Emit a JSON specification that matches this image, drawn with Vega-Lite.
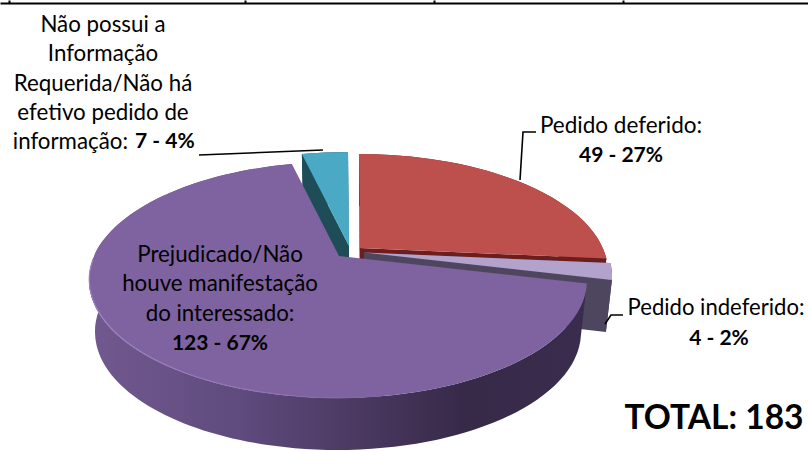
{
"$schema":"https://vega.github.io/schema/vega-lite/v6.json",
"width":808,"height":451,"autosize":"none","padding":0,"background":"white",
"config":{"view":{"stroke":null}},
"data":{"values":[
{"categoria":"Pedido deferido","valor":49,"rotulo":"Pedido deferido:"},
{"categoria":"Pedido indeferido","valor":4,"rotulo":"Pedido indeferido:"},
{"categoria":"Prejudicado","valor":123,"rotulo":"Prejudicado/Não\nhouve manifestação\ndo interessado:"},
{"categoria":"Não possui","valor":7,"rotulo":"Não possui a\nInformação\nRequerida/Não há\nefetivo pedido de","complemento":"informação:"}
]},
"transform":[
{"joinaggregate":[{"op":"sum","field":"valor","as":"total"}]},
{"stack":"valor","groupby":[],"as":["v0","v1"]},
{"calculate":"datum.valor+' - '+round(100*datum.valor/datum.total)+'%'","as":"numeros"},
{"calculate":"2*PI*datum.v0/datum.total","as":"a0"},
{"calculate":"2*PI*datum.v1/datum.total","as":"a1"},
{"calculate":"datum.a0-0.227*sin(datum.a0)","as":"t0"},
{"calculate":"datum.a1-0.227*sin(datum.a1)","as":"t1"},
{"calculate":"datum.t1-datum.t0>PI?1:0","as":"lg"},
{"calculate":"datum.categoria=='Pedido deferido'?21:datum.categoria=='Pedido indeferido'?25:datum.categoria=='Não possui'?10:0","as":"ox"},
{"calculate":"datum.categoria=='Pedido deferido'?-8:datum.categoria=='Pedido indeferido'?-3.5:datum.categoria=='Não possui'?-10:0","as":"oy"},
{"calculate":"datum.ox-65","as":"ax"},
{"calculate":"datum.oy+30.5","as":"ay"},
{"calculate":"round(100*(datum.ox-66+249*sin(datum.t0)))/100","as":"xa"},
{"calculate":"round(100*(datum.oy+54.5-118*cos(datum.t0)))/100","as":"ya"},
{"calculate":"round(100*(datum.ox-66+249*sin(datum.t1)))/100","as":"xb"},
{"calculate":"round(100*(datum.oy+54.5-118*cos(datum.t1)))/100","as":"yb"},
{"calculate":"round(100*(datum.ox-66+243*sin(datum.t0)))/100","as":"bxa"},
{"calculate":"round(100*(datum.oy+106.5-118*cos(datum.t0)))/100","as":"bya"},
{"calculate":"round(100*(datum.ox-66+243*sin(datum.t1)))/100","as":"bxb"},
{"calculate":"round(100*(datum.oy+106.5-118*cos(datum.t1)))/100","as":"byb"},
{"calculate":"'M'+datum.ax+','+datum.ay+'L'+datum.xa+','+datum.ya+'A249,118 0 '+datum.lg+' 1 '+datum.xb+','+datum.yb+'Z'","as":"topo"},
{"calculate":"'M'+datum.xa+','+datum.ya+'A249,118 0 '+datum.lg+' 1 '+datum.xb+','+datum.yb+'L'+datum.bxb+','+datum.byb+'A243,118 0 '+datum.lg+' 0 '+datum.bxa+','+datum.bya+'Z'","as":"parede"},
{"calculate":"'M'+datum.ax+','+datum.ay+'L'+datum.xa+','+datum.ya+'L'+datum.bxa+','+datum.bya+'L'+datum.ax+','+(datum.ay+52)+'Z'","as":"corte0"},
{"calculate":"'M'+datum.ax+','+datum.ay+'L'+datum.xb+','+datum.yb+'L'+datum.bxb+','+datum.byb+'L'+datum.ax+','+(datum.ay+52)+'Z'","as":"corte1"}
],
"layer":[
{"data":{"values":[{"coluna":9},{"coluna":245},{"coluna":434},{"coluna":623}]},
 "transform":[],
 "mark":{"type":"point","opacity":0,"size":1},
 "encoding":{"x":{"field":"coluna","type":"quantitative","scale":{"domain":[0,808],"nice":false,"zero":false},
  "axis":{"orient":"top","values":[9,245,434,623],"labels":false,"title":null,"grid":false,"offset":-3,"domainColor":"black","domainWidth":2,"tickColor":"black","tickWidth":2,"tickSize":3}}}},
{"transform":[
 {"filter":"datum.categoria!='Prejudicado'"},
 {"fold":["corte0","corte1","parede","topo"],"as":["parte","caminho"]},
 {"calculate":"(datum.categoria=='Não possui'?0:datum.categoria=='Pedido deferido'?10:20)+(datum.parte=='topo'?3:datum.parte=='parede'?2:datum.parte=='corte1'?1:0)","as":"ordem"},
 {"calculate":"datum.parte=='topo'?(datum.categoria=='Não possui'?'#4AA9C5':datum.categoria=='Pedido deferido'?'#BD504C':'#B3A2CC'):(datum.categoria=='Não possui'?'#1E4D58':datum.categoria=='Pedido deferido'?'#6B1E1D':'#4E465F')","as":"cor"}
 ],
 "mark":{"type":"point","filled":true,"opacity":1,"size":4,"strokeWidth":0},
 "encoding":{"shape":{"field":"caminho","type":"nominal","scale":null,"legend":null},
  "color":{"field":"cor","type":"nominal","scale":null,"legend":null},
  "order":{"field":"ordem","type":"quantitative"}}},
{"transform":[{"filter":"datum.categoria=='Prejudicado'"}],
 "mark":{"type":"point","filled":true,"opacity":1,"size":4,"strokeWidth":0,
  "fill":{"gradient":"linear","x1":0,"y1":0,"x2":1,"y2":0,"stops":[{"offset":0,"color":"#72598F"},{"offset":0.3,"color":"#5F4B7E"},{"offset":0.55,"color":"#4A3860"},{"offset":0.75,"color":"#372A49"},{"offset":1,"color":"#3A2C4C"}]}},
 "encoding":{"shape":{"field":"parede","type":"nominal","scale":null,"legend":null}}},
{"transform":[{"filter":"datum.categoria=='Prejudicado'"}],
 "mark":{"type":"point","filled":true,"opacity":1,"size":4,"strokeWidth":0,"fill":"#7F62A0"},
 "encoding":{"shape":{"field":"topo","type":"nominal","scale":null,"legend":null}}},
{"transform":[{"filter":"datum.categoria=='Prejudicado'"}],
 "mark":{"type":"point","filled":false,"opacity":1,"size":4,"strokeWidth":1.2,"shape":"M-23,170.5A249,118 0 0 1 -311,34",
  "stroke":{"gradient":"linear","x1":0,"y1":0,"x2":1,"y2":0,"stops":[{"offset":0,"color":"#9A82BE"},{"offset":0.6,"color":"#8E74B2"},{"offset":1,"color":"#7F62A0"}]}}},
{"transform":[{"filter":"datum.categoria=='Não possui'"}],
 "mark":{"type":"point","filled":false,"opacity":1,"size":4,"strokeWidth":1.6,"stroke":"black","shape":"M-205,-70.5L-81,-75.5"}},
{"transform":[{"filter":"datum.categoria=='Pedido deferido'"}],
 "mark":{"type":"point","filled":false,"opacity":1,"size":4,"strokeWidth":1.6,"stroke":"black","shape":"M116,-45.5L119,-93.5L132,-93.5"}},
{"transform":[{"filter":"datum.categoria=='Pedido indeferido'"}],
 "mark":{"type":"point","filled":false,"opacity":1,"size":4,"strokeWidth":1.6,"stroke":"black","shape":"M201,98.5L207,89.5L219,89.5"}},
{"transform":[{"filter":"datum.categoria=='Não possui'"}],
 "mark":{"type":"text","font":"Lato","fontSize":22.3,"lineHeight":29.5,"lineBreak":"\n","align":"center","baseline":"middle","dx":-301,"dy":-201},
 "encoding":{"text":{"field":"rotulo","type":"nominal"}}},
{"transform":[{"filter":"datum.categoria=='Não possui'"}],
 "mark":{"type":"text","font":"Lato","fontSize":22.3,"align":"right","baseline":"middle","dx":-276,"dy":-84},
 "encoding":{"text":{"field":"complemento","type":"nominal"}}},
{"transform":[{"filter":"datum.categoria=='Não possui'"}],
 "mark":{"type":"text","font":"Lato","fontSize":21,"fontWeight":"bold","align":"left","baseline":"middle","dx":-269,"dy":-84},
 "encoding":{"text":{"field":"numeros","type":"nominal"}}},
{"transform":[{"filter":"datum.categoria=='Prejudicado'"}],
 "mark":{"type":"text","font":"Lato","fontSize":22.3,"lineHeight":29.5,"lineBreak":"\n","align":"center","baseline":"middle","dx":-184,"dy":29},
 "encoding":{"text":{"field":"rotulo","type":"nominal"}}},
{"transform":[{"filter":"datum.categoria=='Prejudicado'"}],
 "mark":{"type":"text","font":"Lato","fontSize":21,"fontWeight":"bold","align":"center","baseline":"middle","dx":-184,"dy":118},
 "encoding":{"text":{"field":"numeros","type":"nominal"}}},
{"transform":[{"filter":"datum.categoria=='Pedido deferido'"}],
 "mark":{"type":"text","font":"Lato","fontSize":22.5,"align":"center","baseline":"middle","dx":217,"dy":-100},
 "encoding":{"text":{"field":"rotulo","type":"nominal"}}},
{"transform":[{"filter":"datum.categoria=='Pedido deferido'"}],
 "mark":{"type":"text","font":"Lato","fontSize":21,"fontWeight":"bold","align":"center","baseline":"middle","dx":217,"dy":-70},
 "encoding":{"text":{"field":"numeros","type":"nominal"}}},
{"transform":[{"filter":"datum.categoria=='Pedido indeferido'"}],
 "mark":{"type":"text","font":"Lato","fontSize":22.1,"align":"center","baseline":"middle","dx":312,"dy":82},
 "encoding":{"text":{"field":"rotulo","type":"nominal"}}},
{"transform":[{"filter":"datum.categoria=='Pedido indeferido'"}],
 "mark":{"type":"text","font":"Lato","fontSize":21,"fontWeight":"bold","align":"center","baseline":"middle","dx":315,"dy":113},
 "encoding":{"text":{"field":"numeros","type":"nominal"}}},
{"transform":[{"aggregate":[{"op":"sum","field":"valor","as":"soma"}]},{"calculate":"'TOTAL: '+datum.soma","as":"texto"}],
 "mark":{"type":"text","font":"Lato","fontSize":33.5,"fontWeight":"bold","align":"center","baseline":"middle","dx":310,"dy":193},
 "encoding":{"text":{"field":"texto","type":"nominal"}}}
]
}
